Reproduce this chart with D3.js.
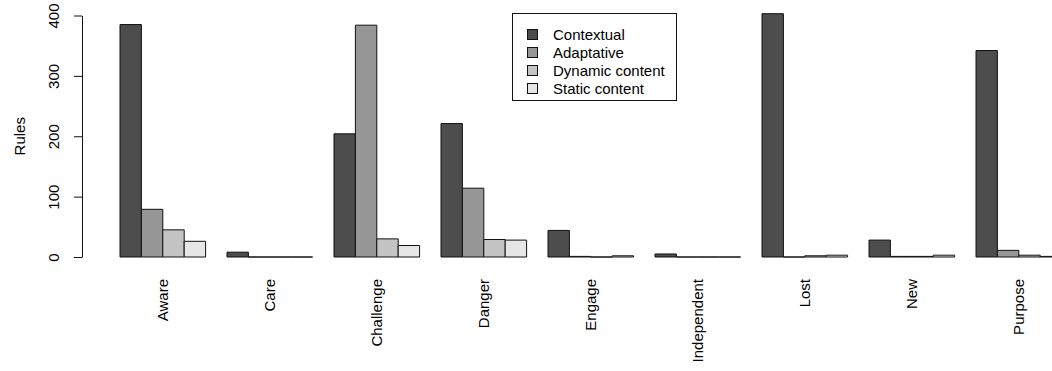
<!DOCTYPE html>
<html>
<head>
<meta charset="utf-8">
<script src="https://cdn.jsdelivr.net/npm/d3@7/dist/d3.min.js"></script>
<style>
html,body{margin:0;padding:0;background:#fff;}
svg{display:block;font-family:"Liberation Sans",Arial,Helvetica,sans-serif;}
</style>
</head>
<body>
<svg id="chart" width="1052" height="371"></svg>
<script>
const categories = ["Aware","Care","Challenge","Danger","Engage","Independent","Lost","New","Purpose"];
const seriesNames = ["Contextual","Adaptative","Dynamic content","Static content"];
const contextual = [385, 8, 204, 221, 44, 5, 403, 28, 342];
const adaptative = [79, 0, 384, 114, 1, 0, 0, 1, 11];
const dynamicContent = [45, 0, 30, 29, 0, 0, 2, 1, 3];
const staticContent = [26, 0, 19, 28, 2, 0, 3, 3, 1];
const yTicks = [0, 100, 200, 300, 400];
const colors = ["#4D4D4D", "#969696", "#C4C4C4", "#E6E6E6"];

const series = [contextual, adaptative, dynamicContent, staticContent];
const svg = d3.select("#chart");
const nS = series.length;
const groupUnits = nS + 1;

const x = d3.scaleLinear().domain([0, categories.length * groupUnits]).range([98.6, 98.6 + 45 * 21.4]);
const y = d3.scaleLinear().domain([0, 400]).range([257, 15.5]);

// bars
const bars = [];
categories.forEach((c, i) => {
  series.forEach((s, j) => {
    bars.push({i, j, v: s[i]});
  });
});
svg.append("g").selectAll("path").data(bars).join("path")
  .attr("d", d => {
    const x0 = x(d.i * groupUnits + 1 + d.j), x1 = x(d.i * groupUnits + 2 + d.j);
    const y0 = y(0), y1 = y(d.v);
    return `M${x0},${y0}L${x1},${y0}L${x1},${y1}L${x0},${y1}Z`;
  })
  .attr("fill", d => colors[d.j])
  .attr("stroke", "#111")
  .attr("stroke-width", 1);

// y axis
const yAxis = d3.axisLeft(y).tickValues(yTicks).tickSize(8).tickSizeOuter(0).tickFormat(d3.format("d"));
const ga = svg.append("g").attr("transform", "translate(82,0)").call(yAxis);
ga.select(".domain").attr("stroke", "#111");
ga.selectAll(".tick line").attr("stroke", "#111");
ga.selectAll(".tick text")
  .attr("x", null).attr("dy", null)
  .attr("transform", "translate(-23,0) rotate(-90)")
  .attr("text-anchor", "middle")
  .attr("font-size", 15)
  .attr("font-family", "Liberation Sans, Arial, sans-serif")
  .attr("fill", "#000");

// y label
svg.append("text")
  .attr("transform", `translate(25,${(y(0) + y(400)) / 2}) rotate(-90)`)
  .attr("text-anchor", "middle")
  .attr("font-size", 15)
  .text("Rules");

// x labels
svg.append("g").selectAll("text").data(categories).join("text")
  .attr("transform", (d, i) => `translate(${x(i * groupUnits + 1 + nS / 2) + 5.3},279) rotate(-90)`)
  .attr("text-anchor", "end")
  .attr("font-size", 15)
  .text(d => d);

// legend
const lg = svg.append("g");
lg.append("rect").attr("x", 512.5).attr("y", 13.5).attr("width", 164).attr("height", 87)
  .attr("fill", "#fff").attr("stroke", "#111").attr("stroke-width", 1);
seriesNames.forEach((name, j) => {
  const cy = 34.5 + j * 18;
  lg.append("rect").attr("x", 527.5).attr("y", cy - 5).attr("width", 10).attr("height", 10)
    .attr("fill", colors[j]).attr("stroke", "#111").attr("stroke-width", 1);
  lg.append("text").attr("x", 553).attr("y", cy + 5.3).attr("font-size", 15).text(name);
});
</script>
</body>
</html>
